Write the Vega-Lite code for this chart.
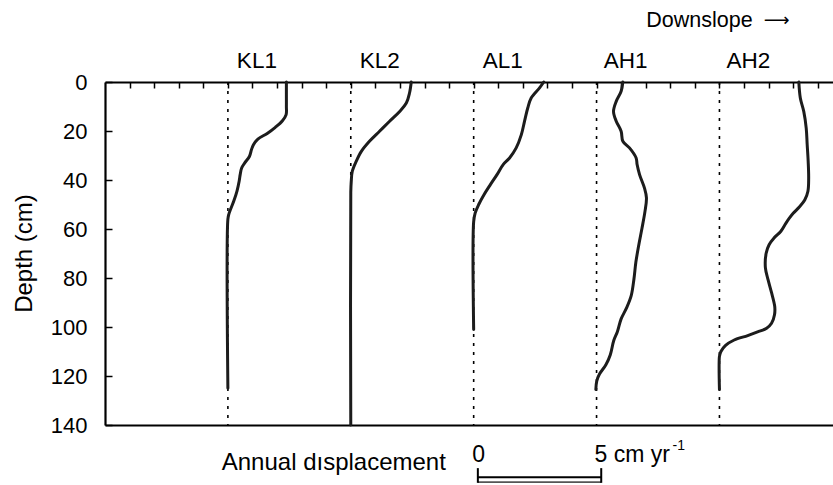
{
  "$schema": "https://vega.github.io/schema/vega-lite/v6.json",
  "autosize": {"type": "none"},
  "padding": {"left": 105, "top": 82, "right": 0, "bottom": 60},
  "width": 728,
  "height": 343,
  "background": "white",
  "config": {
    "view": {"stroke": null},
    "font": "Liberation Sans",
    "text": {"font": "Liberation Sans", "color": "black"},
    "axis": {"labelFont": "Liberation Sans", "titleFont": "Liberation Sans", "domainColor": "black", "tickColor": "black", "labelColor": "black", "titleColor": "black", "grid": false}
  },
  "datasets": {
    "one": [{}],
    "sites": [
      {"site": "KL1", "zero": 0},
      {"site": "KL2", "zero": 5},
      {"site": "AL1", "zero": 10},
      {"site": "AH1", "zero": 15},
      {"site": "AH2", "zero": 20}
    ],
    "profiles": [
      {"site": "KL1", "depth": 0, "pos": 2.38},
      {"site": "KL1", "depth": 5, "pos": 2.38},
      {"site": "KL1", "depth": 10, "pos": 2.38},
      {"site": "KL1", "depth": 13.3, "pos": 2.37},
      {"site": "KL1", "depth": 15.8, "pos": 2.22},
      {"site": "KL1", "depth": 18.5, "pos": 1.93},
      {"site": "KL1", "depth": 21, "pos": 1.6},
      {"site": "KL1", "depth": 23.3, "pos": 1.22},
      {"site": "KL1", "depth": 25.6, "pos": 1.04},
      {"site": "KL1", "depth": 27.6, "pos": 0.96},
      {"site": "KL1", "depth": 30.3, "pos": 0.88},
      {"site": "KL1", "depth": 33.1, "pos": 0.68},
      {"site": "KL1", "depth": 35.1, "pos": 0.56},
      {"site": "KL1", "depth": 37.8, "pos": 0.5},
      {"site": "KL1", "depth": 40.4, "pos": 0.46},
      {"site": "KL1", "depth": 44.5, "pos": 0.37},
      {"site": "KL1", "depth": 48.6, "pos": 0.24},
      {"site": "KL1", "depth": 53.9, "pos": 0.04},
      {"site": "KL1", "depth": 56, "pos": 0},
      {"site": "KL1", "depth": 125, "pos": 0},
      {"site": "KL2", "depth": 0, "pos": 7.46},
      {"site": "KL2", "depth": 4.5, "pos": 7.39},
      {"site": "KL2", "depth": 8.6, "pos": 7.26},
      {"site": "KL2", "depth": 12, "pos": 6.99},
      {"site": "KL2", "depth": 16, "pos": 6.58},
      {"site": "KL2", "depth": 20.1, "pos": 6.17},
      {"site": "KL2", "depth": 24.2, "pos": 5.76},
      {"site": "KL2", "depth": 28.3, "pos": 5.43},
      {"site": "KL2", "depth": 32.4, "pos": 5.22},
      {"site": "KL2", "depth": 36.5, "pos": 5.06},
      {"site": "KL2", "depth": 40.5, "pos": 5.02},
      {"site": "KL2", "depth": 45, "pos": 5.0},
      {"site": "KL2", "depth": 140, "pos": 5.0},
      {"site": "AL1", "depth": 0, "pos": 12.85},
      {"site": "AL1", "depth": 2.4, "pos": 12.68},
      {"site": "AL1", "depth": 6.5, "pos": 12.34},
      {"site": "AL1", "depth": 10.6, "pos": 12.2},
      {"site": "AL1", "depth": 16, "pos": 12.07},
      {"site": "AL1", "depth": 21.5, "pos": 11.94},
      {"site": "AL1", "depth": 26.9, "pos": 11.73},
      {"site": "AL1", "depth": 31, "pos": 11.46},
      {"site": "AL1", "depth": 33.7, "pos": 11.2},
      {"site": "AL1", "depth": 37.8, "pos": 10.95},
      {"site": "AL1", "depth": 41.9, "pos": 10.68},
      {"site": "AL1", "depth": 46, "pos": 10.42},
      {"site": "AL1", "depth": 50.1, "pos": 10.2},
      {"site": "AL1", "depth": 53.5, "pos": 10.06},
      {"site": "AL1", "depth": 57, "pos": 10.0},
      {"site": "AL1", "depth": 101, "pos": 10.0},
      {"site": "AH1", "depth": 0, "pos": 16.07},
      {"site": "AH1", "depth": 3.8, "pos": 16.0},
      {"site": "AH1", "depth": 7.9, "pos": 15.8},
      {"site": "AH1", "depth": 12, "pos": 15.69},
      {"site": "AH1", "depth": 16, "pos": 15.8},
      {"site": "AH1", "depth": 20.1, "pos": 16.0},
      {"site": "AH1", "depth": 24.2, "pos": 16.07},
      {"site": "AH1", "depth": 26.9, "pos": 16.34},
      {"site": "AH1", "depth": 31, "pos": 16.61},
      {"site": "AH1", "depth": 33.7, "pos": 16.65},
      {"site": "AH1", "depth": 37.8, "pos": 16.75},
      {"site": "AH1", "depth": 43.3, "pos": 16.95},
      {"site": "AH1", "depth": 47.3, "pos": 17.03},
      {"site": "AH1", "depth": 52.8, "pos": 16.97},
      {"site": "AH1", "depth": 59.6, "pos": 16.85},
      {"site": "AH1", "depth": 66.4, "pos": 16.72},
      {"site": "AH1", "depth": 73.5, "pos": 16.6},
      {"site": "AH1", "depth": 80.5, "pos": 16.52},
      {"site": "AH1", "depth": 87.2, "pos": 16.41},
      {"site": "AH1", "depth": 92, "pos": 16.23},
      {"site": "AH1", "depth": 96.7, "pos": 16.0},
      {"site": "AH1", "depth": 101.8, "pos": 15.85},
      {"site": "AH1", "depth": 105.5, "pos": 15.7},
      {"site": "AH1", "depth": 111.3, "pos": 15.56},
      {"site": "AH1", "depth": 115.4, "pos": 15.38},
      {"site": "AH1", "depth": 119.2, "pos": 15.12},
      {"site": "AH1", "depth": 122, "pos": 15.01},
      {"site": "AH1", "depth": 125.5, "pos": 14.97},
      {"site": "AH2", "depth": 0, "pos": 23.23},
      {"site": "AH2", "depth": 6.5, "pos": 23.29},
      {"site": "AH2", "depth": 12, "pos": 23.43},
      {"site": "AH2", "depth": 18.8, "pos": 23.53},
      {"site": "AH2", "depth": 25.6, "pos": 23.57},
      {"site": "AH2", "depth": 32.4, "pos": 23.61},
      {"site": "AH2", "depth": 39.2, "pos": 23.63},
      {"site": "AH2", "depth": 44.6, "pos": 23.6},
      {"site": "AH2", "depth": 48.2, "pos": 23.47},
      {"site": "AH2", "depth": 51, "pos": 23.25},
      {"site": "AH2", "depth": 53.6, "pos": 23.0},
      {"site": "AH2", "depth": 55.5, "pos": 22.85},
      {"site": "AH2", "depth": 57.7, "pos": 22.7},
      {"site": "AH2", "depth": 60.9, "pos": 22.5},
      {"site": "AH2", "depth": 63.7, "pos": 22.22},
      {"site": "AH2", "depth": 66.4, "pos": 22.02},
      {"site": "AH2", "depth": 69.9, "pos": 21.9},
      {"site": "AH2", "depth": 75.9, "pos": 21.87},
      {"site": "AH2", "depth": 80.8, "pos": 21.98},
      {"site": "AH2", "depth": 86, "pos": 22.12},
      {"site": "AH2", "depth": 91.7, "pos": 22.25},
      {"site": "AH2", "depth": 95, "pos": 22.24},
      {"site": "AH2", "depth": 98.5, "pos": 22.12},
      {"site": "AH2", "depth": 100.5, "pos": 21.92},
      {"site": "AH2", "depth": 102, "pos": 21.55},
      {"site": "AH2", "depth": 103.5, "pos": 21.15},
      {"site": "AH2", "depth": 105.3, "pos": 20.6},
      {"site": "AH2", "depth": 107.5, "pos": 20.25},
      {"site": "AH2", "depth": 110, "pos": 20.06},
      {"site": "AH2", "depth": 112, "pos": 20.0},
      {"site": "AH2", "depth": 125.5, "pos": 20.0}
    ]
  },
  "resolve": {"axis": {"x": "independent", "y": "independent"}},
  "layer": [
    {
      "data": {"name": "sites"},
      "mark": {"type": "rule", "strokeDash": [3, 6], "strokeWidth": 1.6, "color": "black", "clip": false},
      "encoding": {
        "x": {"field": "zero", "type": "quantitative",
          "scale": {"domain": [-5, 24.62], "nice": false, "zero": false},
          "axis": {"orient": "top", "values": [-4, -3, -2, -1, 0, 1, 2, 3, 4, 5, 6, 7, 8, 9, 10, 11, 12, 13, 14, 15, 16, 17, 18, 19, 20, 21, 22, 23, 24],
            "labels": false, "title": null, "tickSize": -6, "tickWidth": 1.5, "domainWidth": 2.2}},
        "y": {"datum": 0, "type": "quantitative", "scale": {"domain": [0, 140], "reverse": true, "nice": false, "zero": false}, "axis": null},
        "y2": {"datum": 140}
      }
    },
    {
      "data": {"name": "profiles"},
      "mark": {"type": "line", "interpolate": "catmull-rom", "strokeWidth": 3, "color": "#1c1c1c", "strokeJoin": "round", "strokeCap": "round"},
      "encoding": {
        "x": {"field": "pos", "type": "quantitative",
          "scale": {"domain": [-5, 24.62], "nice": false, "zero": false},
          "axis": {"orient": "bottom", "ticks": false, "labels": false, "title": null, "domainWidth": 2.2}},
        "y": {"field": "depth", "type": "quantitative",
          "scale": {"domain": [0, 140], "reverse": true, "nice": false, "zero": false},
          "axis": {"orient": "left", "values": [0, 20, 40, 60, 80, 100, 120, 140], "tickSize": -7, "tickWidth": 1.5,
            "labelFontSize": 22, "labelPadding": 25, "domainWidth": 2.2,
            "title": "Depth (cm)", "titleFontSize": 24, "titleFontWeight": "normal",
            "titleAngle": 270, "titleX": -81, "titleY": 171, "titleAlign": "center", "titleBaseline": "middle"}},
        "detail": {"field": "site", "type": "nominal"},
        "order": {"field": "depth", "type": "quantitative"}
      }
    },
    {
      "data": {"name": "sites"},
      "mark": {"type": "text", "fontSize": 22.5, "align": "center", "baseline": "alphabetic", "dx": 29, "clip": false},
      "encoding": {
        "x": {"field": "zero", "type": "quantitative", "axis": null},
        "y": {"datum": -5.7, "type": "quantitative", "axis": null},
        "text": {"field": "site"}
      }
    },
    {
      "data": {"name": "one"},
      "mark": {"type": "text", "fontSize": 21.5, "align": "right", "baseline": "alphabetic", "clip": false},
      "encoding": {
        "x": {"datum": 21.35, "type": "quantitative", "axis": null},
        "y": {"datum": -22.4, "type": "quantitative", "axis": null},
        "text": {"value": "Downslope"}
      }
    },
    {
      "data": {"name": "one"},
      "mark": {"type": "text", "font": "DejaVu Sans", "fontSize": 18, "align": "left", "baseline": "middle", "clip": false},
      "encoding": {
        "x": {"datum": 21.8, "type": "quantitative", "axis": null},
        "y": {"datum": -25, "type": "quantitative", "axis": null},
        "text": {"value": "⟶"}
      }
    },
    {
      "data": {"name": "one"},
      "mark": {"type": "text", "fontSize": 24, "align": "left", "baseline": "alphabetic", "clip": false},
      "encoding": {
        "x": {"datum": -0.25, "type": "quantitative", "axis": null},
        "y": {"datum": 158.4, "type": "quantitative", "axis": null},
        "text": {"value": "Annual dısplacement"}
      }
    },
    {
      "data": {"name": "one"},
      "mark": {"type": "text", "fontSize": 23, "align": "center", "baseline": "alphabetic", "clip": false},
      "encoding": {
        "x": {"datum": 10.2, "type": "quantitative", "axis": null},
        "y": {"datum": 155, "type": "quantitative", "axis": null},
        "text": {"value": "0"}
      }
    },
    {
      "data": {"name": "one"},
      "mark": {"type": "text", "fontSize": 23, "align": "left", "baseline": "alphabetic", "clip": false},
      "encoding": {
        "x": {"datum": 14.92, "type": "quantitative", "axis": null},
        "y": {"datum": 155.3, "type": "quantitative", "axis": null},
        "text": {"value": "5 cm yr"}
      }
    },
    {
      "data": {"name": "one"},
      "mark": {"type": "text", "fontSize": 14, "align": "left", "baseline": "alphabetic", "clip": false},
      "encoding": {
        "x": {"datum": 18.09, "type": "quantitative", "axis": null},
        "y": {"datum": 150.2, "type": "quantitative", "axis": null},
        "text": {"value": "-1"}
      }
    },
    {
      "data": {"name": "one"},
      "mark": {"type": "rule", "strokeWidth": 2, "color": "black", "clip": false},
      "encoding": {
        "x": {"datum": 10.17, "type": "quantitative", "axis": null},
        "x2": {"datum": 15.19},
        "y": {"datum": 161.3, "type": "quantitative", "axis": null}
      }
    },
    {
      "data": {"name": "one"},
      "mark": {"type": "rule", "strokeWidth": 1.6, "color": "#555555", "clip": false},
      "encoding": {
        "x": {"datum": 10.17, "type": "quantitative", "axis": null},
        "x2": {"datum": 15.19},
        "y": {"datum": 163.3, "type": "quantitative", "axis": null}
      }
    },
    {
      "data": {"name": "one"},
      "mark": {"type": "rule", "strokeWidth": 2, "color": "black", "clip": false},
      "encoding": {
        "x": {"datum": 10.17, "type": "quantitative", "axis": null},
        "y": {"datum": 157.6, "type": "quantitative", "axis": null},
        "y2": {"datum": 163.6}
      }
    },
    {
      "data": {"name": "one"},
      "mark": {"type": "rule", "strokeWidth": 2, "color": "black", "clip": false},
      "encoding": {
        "x": {"datum": 15.19, "type": "quantitative", "axis": null},
        "y": {"datum": 157.6, "type": "quantitative", "axis": null},
        "y2": {"datum": 163.6}
      }
    }
  ]
}
